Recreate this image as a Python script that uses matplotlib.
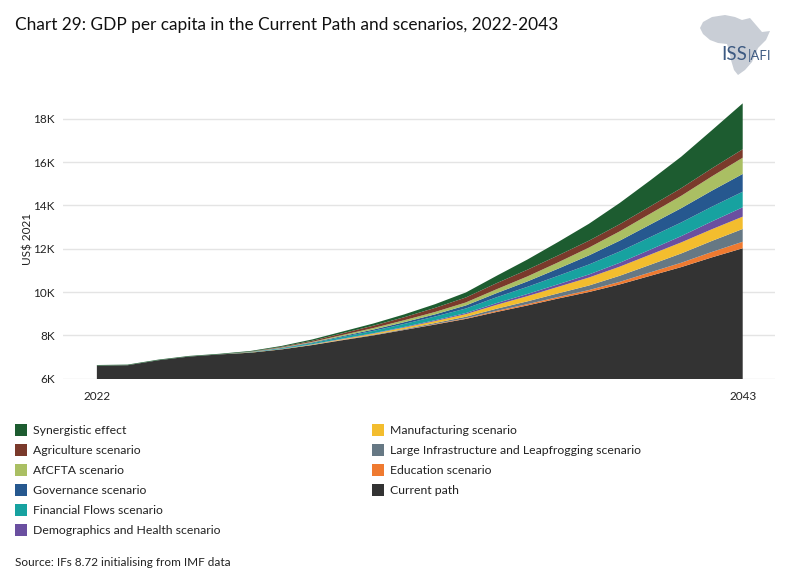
import numpy as np
import matplotlib.pyplot as plt
from matplotlib.patches import Rectangle, Polygon

plt.rcParams['font.family'] = ['Lato', 'DejaVu Sans']

years = list(range(2022, 2044))

# GDP per capita (US$ 2021), current path
current = [6600, 6620, 6850, 7020, 7120, 7200, 7350, 7550, 7780, 8000, 8250,
           8500, 8760, 9080, 9380, 9700, 10000, 10350, 10750, 11150, 11600, 12020]

# extra gain of each scenario stacked on top of the current path
education = [0, 0, 0, 0, 0, 0, 0, 0, 10, 10, 10, 20, 30, 50, 60, 70, 90, 120,
             160, 200, 250, 300]
infrastructure = [0, 0, 0, 0, 0, 0, 0, 10, 10, 20, 30, 50, 70, 100, 130, 170,
                  210, 280, 350, 430, 510, 590]
manufacturing = [0, 0, 0, 0, 0, 10, 10, 20, 30, 50, 70, 90, 120, 180, 240, 300,
                 370, 420, 470, 510, 540, 570]
demographics = [0, 0, 0, 0, 0, 0, 10, 10, 20, 20, 30, 40, 50, 80, 100, 120, 140,
                180, 230, 290, 360, 430]
financial = [0, 0, 0, 0, 0, 10, 30, 50, 80, 110, 140, 170, 210, 270, 330, 390,
             460, 520, 580, 630, 680, 720]
governance = [0, 0, 0, 0, 0, 10, 20, 30, 40, 60, 80, 100, 140, 190, 250, 330,
              420, 500, 580, 660, 740, 820]
afcfta = [0, 0, 0, 0, 0, 10, 20, 30, 50, 70, 90, 110, 140, 180, 230, 290, 360,
          430, 500, 570, 660, 750]
agriculture = [0, 0, 0, 0, 0, 10, 30, 50, 80, 110, 140, 190, 230, 280, 310, 320,
               320, 330, 340, 355, 370, 390]
synergistic = [30, 30, 30, 30, 30, 30, 40, 60, 80, 100, 130, 170, 230, 340, 470,
               620, 780, 980, 1200, 1450, 1760, 2120]

labels = ['Current path', 'Education scenario',
          'Large Infrastructure and Leapfrogging scenario',
          'Manufacturing scenario', 'Demographics and Health scenario',
          'Financial Flows scenario', 'Governance scenario', 'AfCFTA scenario',
          'Agriculture scenario', 'Synergistic effect']
colors = ['#333333', '#ef7a30', '#667884', '#f3bd2e', '#6a4fa0', '#17a2a0',
          '#26588f', '#aabf63', '#7a3a2b', '#1d5c30']

fig = plt.figure(figsize=(7.86, 5.85), dpi=100)
ax = fig.add_axes([0.0802, 0.3527, 0.9058, 0.4777])

ax.stackplot(years, current, education, infrastructure, manufacturing,
             demographics, financial, governance, afcfta, agriculture,
             synergistic, colors=colors, linewidth=0, zorder=2)

ax.set_xlim(2020.9, 2044.05)
ax.set_ylim(6000, 18900)
ax.set_yticks([6000, 8000, 10000, 12000, 14000, 16000, 18000])
ax.set_yticklabels(['6K', '8K', '10K', '12K', '14K', '16K', '18K'])
ax.set_xticks([2022, 2043])
ax.set_xticklabels(['2022', '2043'])
ax.tick_params(length=0, labelsize=8.5, colors='#222222', pad=6)
ax.tick_params(axis='x', pad=9)
ax.grid(axis='y', color='#e4e4e4', linewidth=1, zorder=0)
for s in ax.spines.values():
    s.set_visible(False)
ax.set_ylabel('US$ 2021', fontsize=8.5, color='#222222', labelpad=0)

fig.text(0.019, 0.957, 'Chart 29: GDP per capita in the Current Path and scenarios, 2022-2043',
         fontsize=12.4, color='#111111', va='center')

# logo
africa_px = [(703, 22), (712, 17), (725, 15), (735, 17), (742, 20), (750, 18),
             (756, 25), (762, 32), (770, 31), (766, 40), (758, 48), (755, 55),
             (752, 62), (745, 70), (738, 75), (734, 70), (731, 60), (729, 50),
             (727, 44), (718, 43), (710, 40), (703, 34), (700, 28)]
africa = [(x / 786, 1 - y / 585) for x, y in africa_px]
fig.add_artist(Polygon(africa, closed=True, transform=fig.transFigure,
                       facecolor='#c9ced6', edgecolor='none'))
fig.text(721 / 786, 1 - 55 / 585, 'ISS', fontsize=13.5, color='#3d5a82',
         va='center')
fig.text(748 / 786, 1 - 55 / 585, '|AFI', fontsize=9.5, color='#3d5a82',
         va='center')

# legend
left_items = [9, 8, 7, 6, 5, 4]
right_items = [3, 2, 1, 0]
for col, items in [(15, left_items), (372, right_items)]:
    for i, k in enumerate(items):
        yc = 430 + 20 * i
        fig.add_artist(Rectangle((col / 786, 1 - (yc + 6) / 585), 12 / 786,
                                 12 / 585, transform=fig.transFigure,
                                 facecolor=colors[k], edgecolor='none'))
        fig.text((col + 18) / 786, 1 - (yc + 1) / 585, labels[k],
                 fontsize=8.8, color='#222222', va='center')

fig.text(15 / 786, 1 - 563 / 585, 'Source: IFs 8.72 initialising from IMF data',
         fontsize=8.5, color='#222222', va='center')

fig.savefig('out.png', dpi=100)
